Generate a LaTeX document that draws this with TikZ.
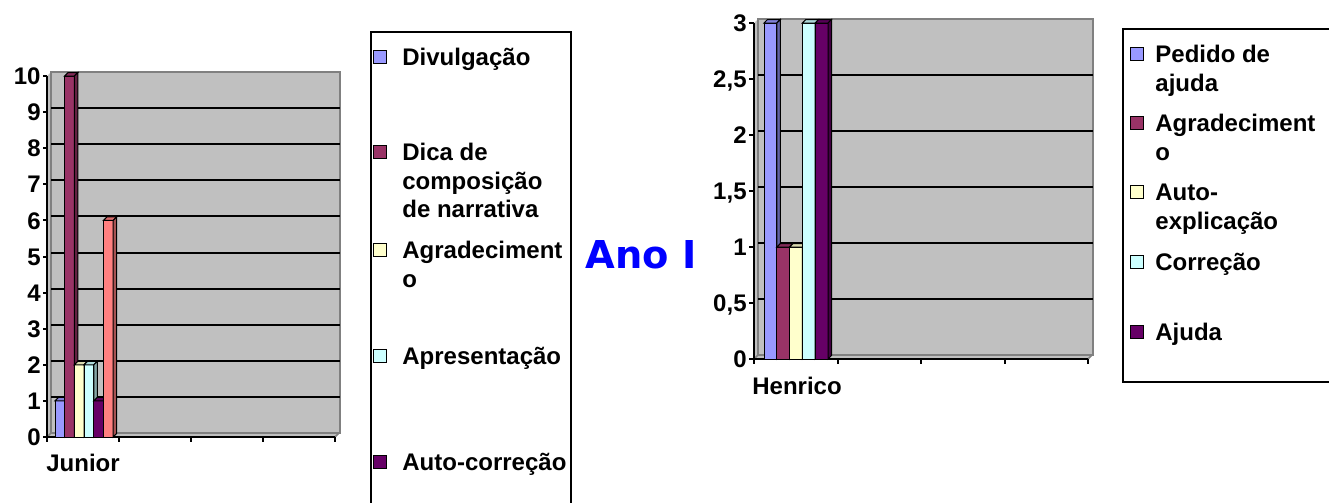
\documentclass[tikz,border=0pt]{standalone}
\usepackage{fontspec}
\setmainfont{Liberation Sans}
\newfontfamily\anofont{DejaVu Sans}
\definecolor{serieblue}{HTML}{9999FF}
\definecolor{seriewine}{HTML}{993366}
\definecolor{serieyellow}{HTML}{FFFFCC}
\definecolor{seriecyan}{HTML}{CCFFFF}
\definecolor{seriepurple}{HTML}{660066}
\definecolor{seriesalmon}{HTML}{FF8080}
\definecolor{wallgray}{HTML}{C0C0C0}
\definecolor{anoblue}{HTML}{0000FF}
% one 3d column: x, width, base, height, colour
\newcommand{\barthreed}[5]{%
  \filldraw[barline,fill=#5] (#1,#3) rectangle ++(#2,-#4);
  \filldraw[barline,fill=#5!85!black] (#1,#3-#4) -- ++(3.5,-3.5) -- ++(#2,0) -- ++(-3.5,3.5) -- cycle;
  \filldraw[barline,fill=#5!65!black] (#1+#2,#3) -- ++(3.5,-3.5) -- ++(0,-#4) -- ++(-3.5,3.5) -- cycle;
}
% legend lines, first baseline on top
\newcommand{\legendlines}[1]{\begin{tabular}[t]{@{}l@{}}#1\end{tabular}}
\tikzset{
  barline/.style={draw=black,line width=0.5pt},
  wall/.style={fill=wallgray,draw=gray,line width=0.75pt},
  axisline/.style={black,line width=1pt},
  gridline/.style={black,line width=1pt},
  chartfont/.style={font=\bfseries\fontsize{12}{14.25}\selectfont},
  ticklabel/.style={chartfont,anchor=east,inner sep=0pt,text height=8.6pt,text depth=0pt},
  catlabel/.style={chartfont,inner sep=0pt,text height=8.6pt,text depth=0pt},
  legendbox/.style={black,line width=0.75pt},
  legendmark/.style={draw=black,line width=0.6pt,minimum size=6.2pt,inner sep=0pt},
  legendtext/.style={chartfont,anchor=base west,inner sep=0pt},
}
\begin{document}
\begin{tikzpicture}[x=0.5pt,y=-0.5pt]
  \useasboundingbox (0,0) rectangle (1329,503);
  % Junior: walls
  \fill[wallgray] (47,437) -- (51,433) -- (51,72) -- (47,76) -- cycle;
  \filldraw[wall] (51,72) rectangle (340,433);
  \filldraw[wall] (47,437) -- (51,433) -- (339,433) -- (335,437) -- cycle;
  \foreach \k in {1,...,9}
    \draw[gridline] (51,{433-\k*36.1}) -- (340,{433-\k*36.1});
  % Junior: axes
  \draw[axisline] (47,76) -- (47,437) -- (335,437);
  \foreach \k in {0,...,10}{
    \draw[axisline] (43,{437-\k*36.1}) -- (47,{437-\k*36.1});
    \node[ticklabel] (jy\k) at (41,{437-\k*36.1}) {\k};
  }
  \foreach \x in {47,119,191,263,335}
    \draw[axisline] (\x,437) -- (\x,442);
  \node[catlabel] (junior) at (83,463) {Junior};
  % Junior: columns
  \foreach \i/\v/\c in {0/1/serieblue,1/10/seriewine,2/2/serieyellow,3/2/seriecyan,4/1/seriepurple,5/6/seriesalmon}
    \barthreed{55+\i*9.7}{9.7}{437}{\v*36.1}{\c}
  % Junior: legend
  \draw[legendbox] (371,503) -- (371,32) -- (571,32) -- (571,503);
  \foreach \c/\y/\t [count=\n] in {serieblue/57/{Divulgação},
      seriewine/152/{Dica de\\composição\\de narrativa},
      serieyellow/250/{Agradeciment\\o},
      seriecyan/356/{Apresentação},
      seriepurple/462/{Auto-correção}}{
    \node[legendmark,fill=\c] (jm\n) at (380,\y) {};
    \node[legendtext] (jt\n) at (402,\y+8.6) {\legendlines{\t}};
  }
  % title
  \node[text=anoblue,font=\anofont\bfseries\fontsize{19.2}{23}\selectfont,inner sep=0pt] (ano) at (641,254.5) {Ano I};
  % Henrico: walls
  \fill[wallgray] (754,359) -- (758,355) -- (758,19) -- (754,23) -- cycle;
  \filldraw[wall] (758,19) rectangle (1093,355);
  \filldraw[wall] (754,359) -- (758,355) -- (1092,355) -- (1088,359) -- cycle;
  \foreach \k in {1,...,5}
    \draw[gridline] (758,{355-\k*56}) -- (1093,{355-\k*56});
  % Henrico: axes
  \draw[axisline] (754,23) -- (754,359) -- (1088,359);
  \foreach \k/\t in {0/0,1/{0,5},2/1,3/{1,5},4/2,5/{2,5},6/3}{
    \draw[axisline] (749,{359-\k*56}) -- (754,{359-\k*56});
    \node[ticklabel] (hy\k) at (747,{359-\k*56}) {\t};
  }
  \foreach \x in {754,837.5,921,1004.5,1088}
    \draw[axisline] (\x,359) -- (\x,364);
  \node[catlabel] (henrico) at (797,385.5) {Henrico};
  % Henrico: columns
  \foreach \i/\v/\c in {0/3/serieblue,1/1/seriewine,2/1/serieyellow,3/3/seriecyan,4/3/seriepurple}
    \barthreed{764+\i*12.8}{12.8}{359}{\v*112}{\c}
  % Henrico: legend
  \draw[legendbox] (1329,29) -- (1123,29) -- (1123,382) -- (1329,382);
  \foreach \c/\y/\t [count=\n] in {serieblue/54/{Pedido de\\ajuda},
      seriewine/123/{Agradeciment\\o},
      serieyellow/192/{Auto-\\explicação},
      seriecyan/262/{Correção},
      seriepurple/332/{Ajuda}}{
    \node[legendmark,fill=\c] (hm\n) at (1137,\y) {};
    \node[legendtext] (ht\n) at (1155,\y+8.6) {\legendlines{\t}};
  }
\end{tikzpicture}
\end{document}
